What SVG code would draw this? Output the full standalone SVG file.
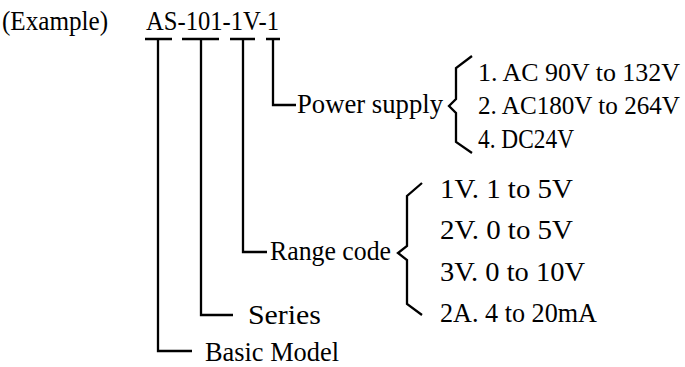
<svg xmlns="http://www.w3.org/2000/svg" width="685" height="367" viewBox="0 0 685 367">
<style>
text{font-family:"Liberation Serif","DejaVu Serif",serif;font-size:27px;fill:#000}
text.long{font-size:25.5px}
.ln{fill:none;stroke:#000;stroke-width:2.3;stroke-linejoin:miter;stroke-linecap:butt}
</style>
<rect width="685" height="367" fill="#fff"/>
<g id="example">
<text x="2" y="30" textLength="106" lengthAdjust="spacingAndGlyphs">(Example)</text>
</g>
<g id="model-code">
<text x="146" y="30" textLength="133" lengthAdjust="spacingAndGlyphs">AS-101-1V-1</text>
</g>
<g id="connectors" class="ln">
<path d="M145 39H172M182 39H219M230 39H255M266 39H280"/>
<path d="M273 39V105H296"/>
<path d="M243 39V252H267"/>
<path d="M201 39V315H233"/>
<path d="M158 39V351H192"/>
<path d="M472 56L456 68V99L449 106L456 113V142L472 153"/>
<path d="M422 183L407 196V246L398 253L407 260V304L422 315"/>
</g>
<g id="power-supply">
<text x="297" y="113" textLength="146" lengthAdjust="spacingAndGlyphs">Power supply</text>
</g>
<g id="power-options">
<text class="long" x="478" y="81" textLength="202" lengthAdjust="spacingAndGlyphs">1. AC 90V to 132V</text>
<text class="long" x="478" y="114" textLength="202" lengthAdjust="spacingAndGlyphs">2. AC180V to 264V</text>
<text x="478" y="148" textLength="96" lengthAdjust="spacingAndGlyphs">4. DC24V</text>
</g>
<g id="range-code">
<text x="270" y="260" textLength="121" lengthAdjust="spacingAndGlyphs">Range code</text>
</g>
<g id="range-options">
<text x="440" y="198" textLength="133" lengthAdjust="spacingAndGlyphs">1V. 1 to 5V</text>
<text x="440" y="239" textLength="133" lengthAdjust="spacingAndGlyphs">2V. 0 to 5V</text>
<text x="440" y="281" textLength="145" lengthAdjust="spacingAndGlyphs">3V. 0 to 10V</text>
<text x="440" y="322" textLength="157" lengthAdjust="spacingAndGlyphs">2A. 4 to 20mA</text>
</g>
<g id="series">
<text x="248" y="324" textLength="73" lengthAdjust="spacingAndGlyphs">Series</text>
</g>
<g id="basic-model">
<text x="205" y="361" textLength="134" lengthAdjust="spacingAndGlyphs">Basic Model</text>
</g>
</svg>
